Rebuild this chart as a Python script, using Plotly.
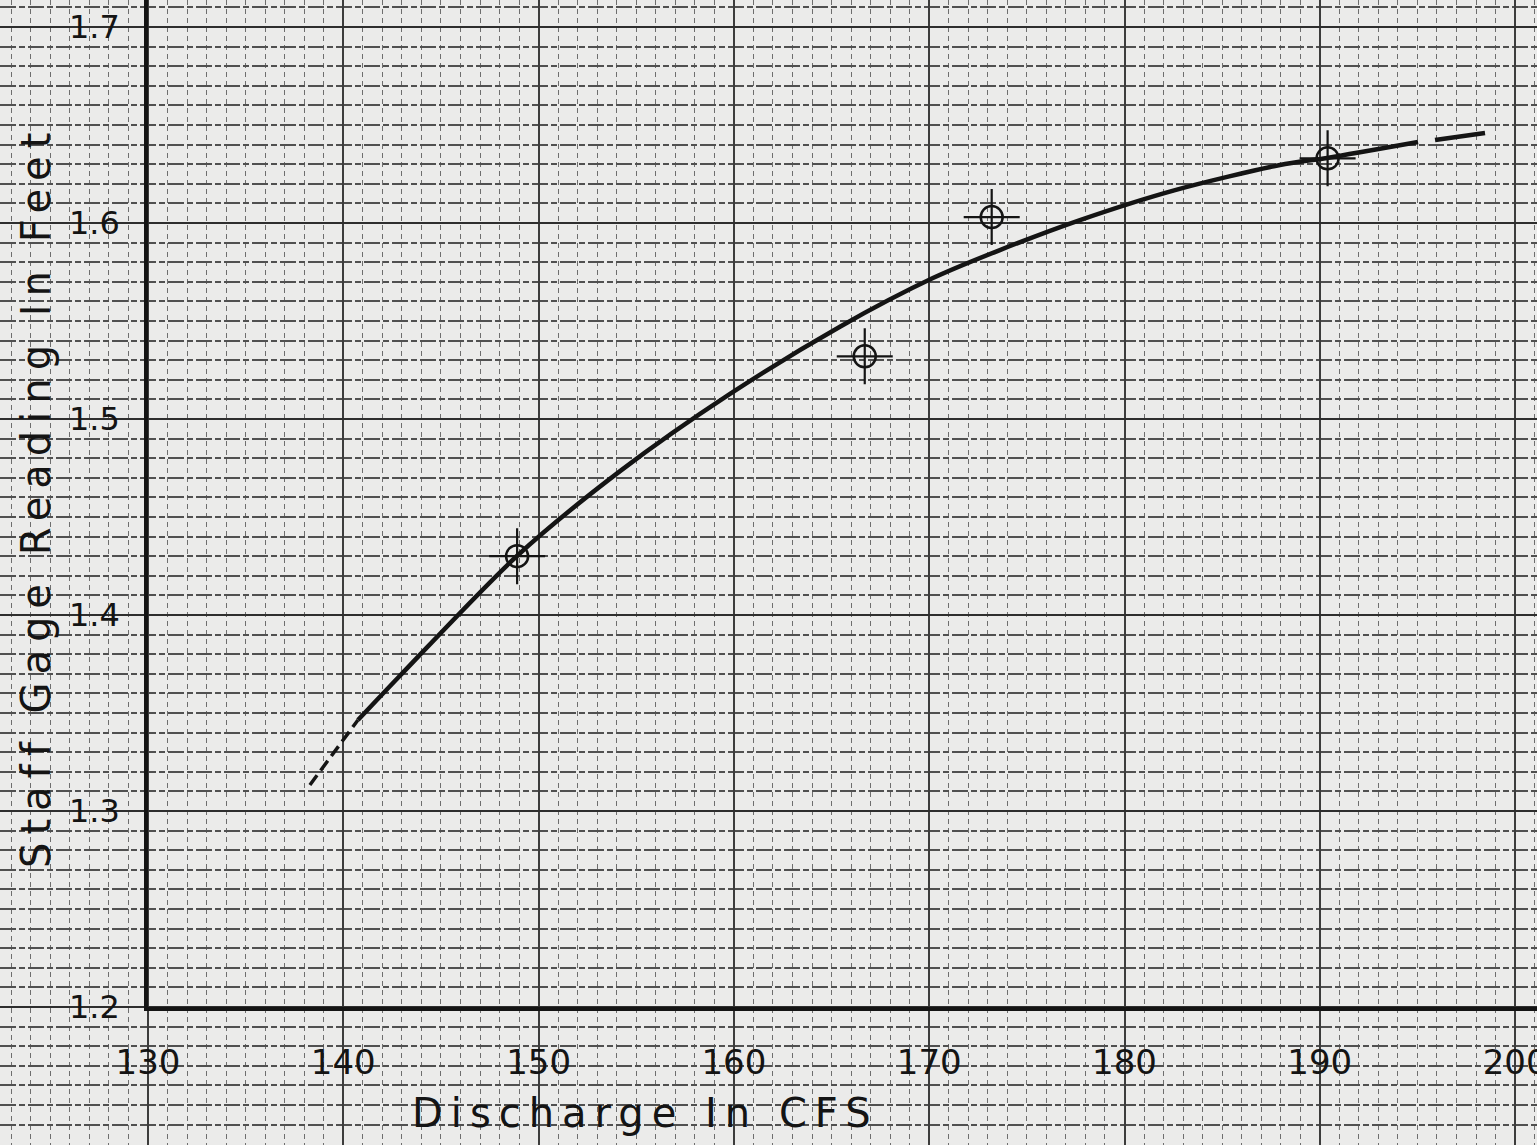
import plotly.graph_objects as go

# ---- data ----
obs_x = [148.9, 166.7, 173.2, 190.4]
obs_y = [1.430, 1.532, 1.603, 1.633]

curve_x = [140.75, 142.90, 148.89, 154.17, 159.80, 165.43, 170.19, 173.62, 177.72, 182.59, 187.96, 190.37, 195.03]
curve_y = [1.3464, 1.3690, 1.4301, 1.4734, 1.5128, 1.5471, 1.5719, 1.5862, 1.6015, 1.6168, 1.6296, 1.6332, 1.6413]

low_ext_x = [138.29, 140.75]
low_ext_y = [1.3133, 1.3464]
high_ext_x = [195.90, 198.46]
high_ext_y = [1.6423, 1.6459]

x_ticks = [130, 140, 150, 160, 170, 180, 190, 200]
y_ticks = [1.2, 1.3, 1.4, 1.5, 1.6, 1.7]
y_tick_text = ["1.2", "1.3", "1.4", "1.5", "1.6", "1.7"]

W, H = 1537, 1145
# frame placement (pixels)
X0PX, YBPX = 148, 1007
PX_PER_X = 19.53     # px per cfs
PX_PER_Y = 1960.0    # px per foot

x_lo = 130 - X0PX / PX_PER_X
x_hi = 130 + (W - X0PX) / PX_PER_X
y_lo = 1.2 - (H - YBPX) / PX_PER_Y
y_hi = 1.2 + YBPX / PX_PER_Y

INK = "#141414"
FONT = "DejaVu Sans"

fig = go.Figure()

# invisible trace on the full-page graph-paper axes
fig.add_trace(go.Scatter(x=[x_lo], y=[y_lo], mode="markers", marker=dict(opacity=0),
                         xaxis="x", yaxis="y", showlegend=False, hoverinfo="skip"))

# rating curve
fig.add_trace(go.Scatter(x=curve_x, y=curve_y, mode="lines", xaxis="x2", yaxis="y2",
                         line=dict(color=INK, width=4.5, shape="spline", smoothing=0.8),
                         showlegend=False))
fig.add_trace(go.Scatter(x=low_ext_x, y=low_ext_y, mode="lines", xaxis="x2", yaxis="y2",
                         line=dict(color=INK, width=3.5, dash="12px,6px"), showlegend=False))
fig.add_trace(go.Scatter(x=high_ext_x, y=high_ext_y, mode="lines", xaxis="x2", yaxis="y2",
                         line=dict(color=INK, width=4.5), showlegend=False))

# observation markers: circle plus crosshair
fig.add_trace(go.Scatter(x=obs_x, y=obs_y, mode="markers", xaxis="x2", yaxis="y2",
                         marker=dict(symbol="cross-thin-open", size=40, color=INK,
                                     line=dict(color=INK, width=2.2)),
                         showlegend=False))
fig.add_trace(go.Scatter(x=obs_x, y=obs_y, mode="markers", xaxis="x2", yaxis="y2",
                         marker=dict(symbol="circle-open", size=22, color=INK,
                                     line=dict(color=INK, width=2.5)),
                         showlegend=False))

fig.update_layout(
    width=W, height=H,
    margin=dict(l=0, r=0, t=0, b=0, autoexpand=False),
    paper_bgcolor="#ebebea",
    plot_bgcolor="rgba(0,0,0,0)",
    showlegend=False,
    xaxis=dict(domain=[0, 1], range=[x_lo, x_hi], showticklabels=False, ticks="",
               zeroline=False, showline=False, automargin=False,
               tick0=130, dtick=10, showgrid=True, gridcolor="#3c3c3c", gridwidth=1.8,
               minor=dict(tick0=130, dtick=1, showgrid=True, gridcolor="#6e6e6e",
                          gridwidth=1.1, griddash="5px,4px")),
    yaxis=dict(domain=[0, 1], range=[y_lo, y_hi], showticklabels=False, ticks="",
               zeroline=False, showline=False, anchor="x", automargin=False,
               tick0=1.2, dtick=0.1, showgrid=True, gridcolor="#2e2e2e", gridwidth=2.4,
               minor=dict(tick0=1.2, dtick=0.01, showgrid=True, gridcolor="#505050",
                          gridwidth=1.5, griddash="16px,3px,6px,3px")),
    xaxis2=dict(domain=[X0PX / W, 1], range=[130, x_hi], anchor="y2", automargin=False,
                showgrid=False, zeroline=False, showline=True, linecolor=INK, linewidth=3.5,
                tickmode="array", tickvals=x_ticks, ticks="",
                ticklabelstandoff=22, ticklabeloverflow="allow",
                tickfont=dict(family=FONT, size=34, color=INK)),
    yaxis2=dict(domain=[(H - YBPX) / H, 1], range=[1.2, y_hi], anchor="x2", automargin=False,
                showgrid=False, zeroline=False, showline=True, linecolor=INK, linewidth=3.5,
                tickmode="array", tickvals=y_ticks, ticktext=y_tick_text, ticks="",
                ticklabelstandoff=18, ticklabeloverflow="allow",
                tickfont=dict(family=FONT, size=32, color=INK)),
    annotations=[
        dict(text='<span style="letter-spacing:8px">Discharge In CFS</span>',
             xref="paper", yref="paper", xanchor="center", yanchor="middle",
             x=645 / W, y=1 - 1113 / H, showarrow=False,
             font=dict(family=FONT, size=40, color=INK)),
        dict(text='<span style="letter-spacing:8px">Staff Gage Reading In Feet</span>',
             xref="paper", yref="paper", xanchor="center", yanchor="middle",
             x=36 / W, y=1 - 497 / H, showarrow=False, textangle=-90,
             font=dict(family=FONT, size=40, color=INK)),
    ],
)

fig.write_html("out.html", config={"displayModeBar": False},
               post_script="document.body.style.margin='0';document.body.style.overflow='hidden';")
